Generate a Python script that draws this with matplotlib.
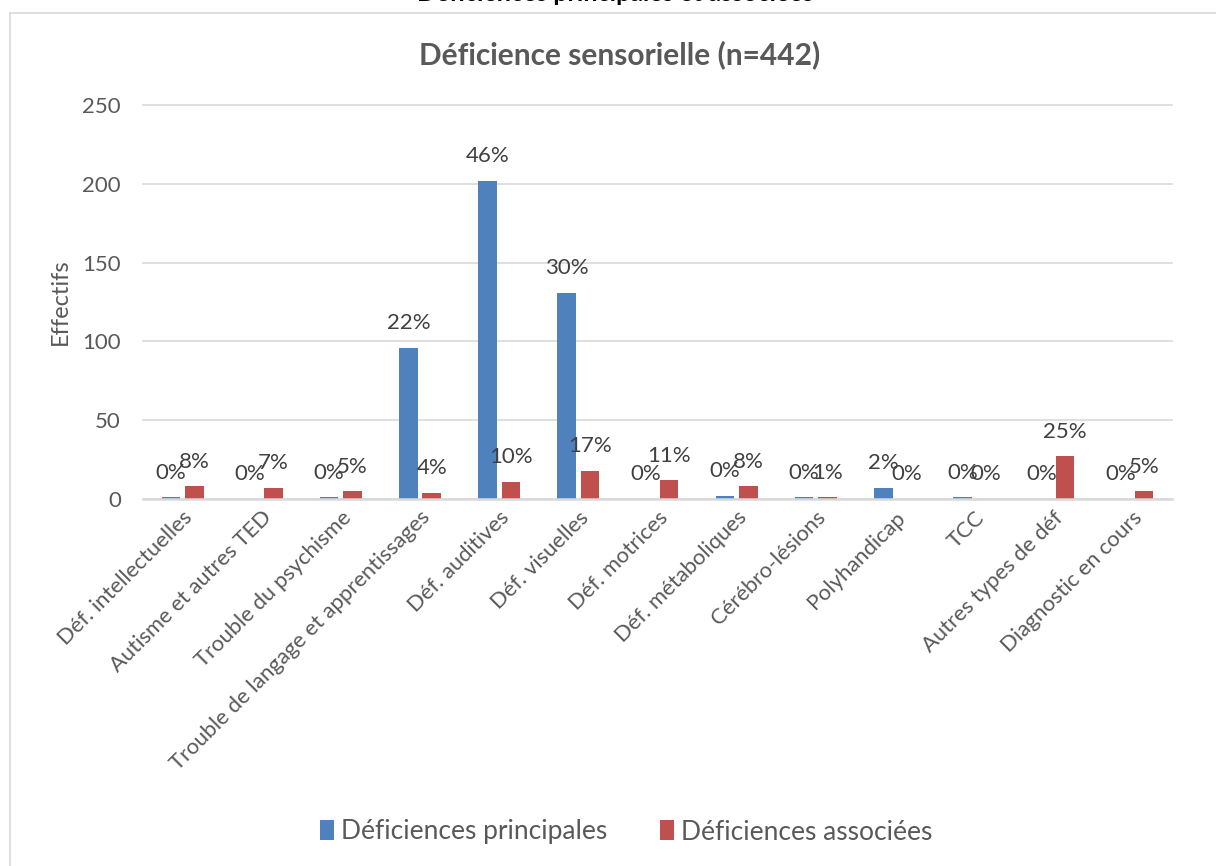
import matplotlib
matplotlib.use("Agg")
import matplotlib.pyplot as plt
from matplotlib.lines import Line2D
from matplotlib.patches import Patch
import numpy as np

categories = [
    "Déf. intellectuelles", "Autisme et autres TED", "Trouble du psychisme",
    "Trouble de langage et apprentissages", "Déf. auditives", "Déf. visuelles",
    "Déf. motrices", "Déf. métaboliques", "Cérébro-lésions", "Polyhandicap",
    "TCC", "Autres types de déf", "Diagnostic en cours",
]
principales = [1, 0, 1, 96, 202, 131, 0, 2, 1, 7, 1, 0, 0]
associees = [8, 7, 5, 4, 11, 18, 12, 8, 1, 0, 0, 27, 5]

series_names = ["Déficiences principales", "Déficiences associées"]
title = "Déficience sensorielle (n=442)"
header = "Déficiences principales et associées"
y_label = "Effectifs"
y_ticks = [0, 50, 100, 150, 200, 250]

BLUE = "#4F81BD"
RED = "#C0504D"
TXT = "#595959"
LBL = "#404040"
GRID = "#D9D9D9"

plt.rcParams["font.family"] = ["Lato", "DejaVu Sans"]

W, H = 1216, 866
fig = plt.figure(figsize=(W / 100, H / 100), dpi=100)
ax = fig.add_axes([143 / W, (H - 499) / H, (1172 - 143) / W, (499 - 105) / H])

x = np.arange(len(categories))
bw = 0.234
off = 0.148
b1 = ax.bar(x - off, principales, bw, color=BLUE, zorder=3)
b2 = ax.bar(x + off, associees, bw, color=RED, zorder=3)


def pct_labels(bars, vals):
    tot = sum(vals)
    for rect, v in zip(bars, vals):
        p = int(np.floor(100 * v / tot + 0.5))
        ax.annotate(f"{p}%", (rect.get_x() + rect.get_width() / 2, v),
                    xytext=(0, 10.5), textcoords="offset points",
                    ha="center", va="bottom", fontsize=16, color=LBL,
                    zorder=4, annotation_clip=False)


pct_labels(b1, principales)
pct_labels(b2, associees)

ax.set_xlim(-0.5, len(categories) - 0.5)
ax.set_ylim(0, 250)
ax.set_yticks(y_ticks)
ax.set_yticklabels([str(t) for t in y_ticks], fontsize=16, color=TXT)
ax.set_xticks(x)
ax.set_xticklabels(categories, rotation=45, ha="right", rotation_mode="anchor",
                   fontsize=15.8, color=TXT)
ax.tick_params(axis="both", length=0)
ax.tick_params(axis="y", pad=16)
ax.tick_params(axis="x", pad=6)
for s in ["top", "right", "left"]:
    ax.spines[s].set_visible(False)
ax.spines["bottom"].set_color(GRID)
ax.spines["bottom"].set_linewidth(1.8)
ax.spines["bottom"].set_zorder(5)
ax.yaxis.grid(True, color=GRID, linewidth=1.2, zorder=0)
for gl in ax.get_ygridlines():
    gl.set_clip_on(False)
ax.set_axisbelow(True)

ax.set_ylabel(y_label, fontsize=17, color=TXT, labelpad=8)

fig.text(620 / W, 1 - 55 / H, title, ha="center", va="center",
         fontsize=21.5, fontweight="bold", color=TXT)

# header of the page, mostly running off the top edge
fig.text(615 / W, 1 - 1.0 / H, header, ha="center", va="baseline",
         fontsize=18, fontweight="bold", color="black")

# chart frame
fig.add_artist(Line2D([10 / W, 10 / W], [0, 1 - 13 / H], transform=fig.transFigure,
                      color=GRID, linewidth=1.2))
fig.add_artist(Line2D([10 / W, 1], [1 - 13 / H, 1 - 13 / H], transform=fig.transFigure,
                      color=GRID, linewidth=1.2))

handles = [Patch(facecolor=BLUE), Patch(facecolor=RED)]
fig.legend(handles, series_names, loc="center", bbox_to_anchor=(626 / W, 1 - 832 / H),
           ncol=2, frameon=False, fontsize=19, handlelength=0.55, handleheight=0.8,
           handletextpad=0.25, columnspacing=2.0, labelcolor=TXT)

fig.savefig("out.png", dpi=100)
